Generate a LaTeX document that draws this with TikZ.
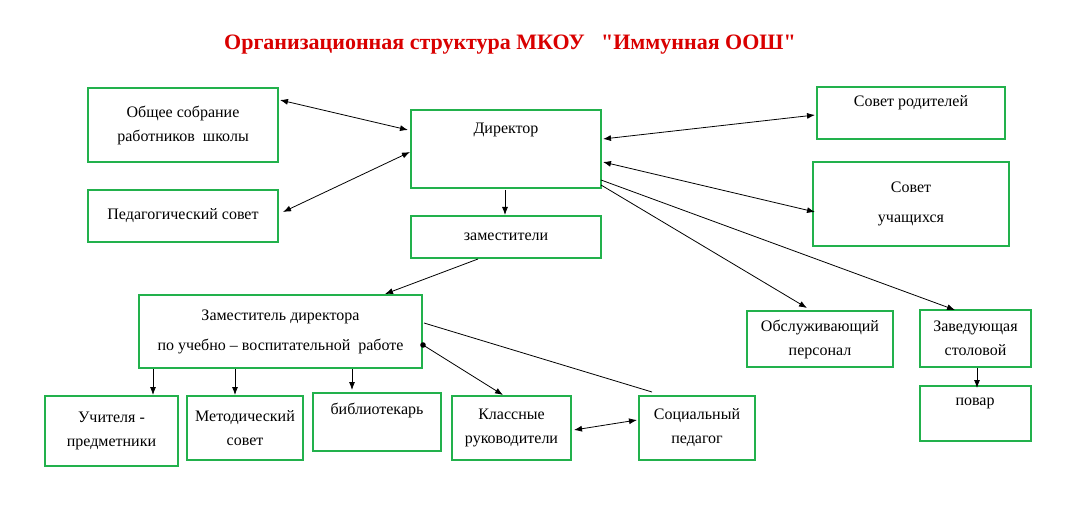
\documentclass[tikz,border=0pt]{standalone}
\usetikzlibrary{arrows.meta}
\usepackage{fontspec}
\setmainfont{Liberation Serif}
\newfontfamily\plainq{Liberation Serif}
\definecolor{gbox}{RGB}{34,177,76}
\begin{document}
\begin{tikzpicture}[x=1pt,y=-1pt,
 box/.style={draw=gbox,line width=2.8pt,align=center,font=\rmfamily\fontsize{16}{24}\selectfont,inner sep=0},
 con/.style={line width=0.8pt,>={Latex[length=8pt,width=6pt]}},
]
\useasboundingbox (0,0) rectangle (1065,518);
\fill[white] (0,0) rectangle (1065,518);
\node[text=red!85!black,font=\rmfamily\fontsize{22}{24}\selectfont\bfseries] (t) at (510,45) {Организационная структура МКОУ \ \ {\plainq\bfseries"}Иммунная ООШ{\plainq\bfseries"}};
\newcommand\bx[6]{\draw[box] (#2,#3) rectangle (#4,#5) node[box,draw=none,pos=0.5] (#1) {#6};}
\bx{os}{88}{88}{278}{162}{Общее собрание\\работников \ школы}
\bx{ps}{88}{190}{278}{242}{Педагогический совет}
\draw[box] (411,110) rectangle (601,188); \node[font=\rmfamily\fontsize{16}{18}\selectfont] (dir) at (506,130) {Директор};
\bx{zam}{411}{216}{601}{258}{заместители}
\draw[box] (817,87) rectangle (1005,139); \node[font=\rmfamily\fontsize{16}{18}\selectfont] (sr) at (911,103) {Совет родителей};
\bx{su}{813}{162}{1009}{246}{Совет\\[6pt]учащихся}
\bx{zd}{139}{295}{422}{368}{Заместитель директора\\[6pt]по учебно -- воспитательной \ работе}
\bx{ob}{747}{311}{893}{367}{Обслуживающий\\персонал}
\bx{zs}{920}{310}{1031}{367}{Заведующая\\столовой}
\draw[box] (920,386) rectangle (1031,441); \node[font=\rmfamily\fontsize{16}{18}\selectfont] (pv) at (975,403) {повар};
\bx{uc}{45}{396}{178}{466}{Учителя -\\предметники}
\bx{ms}{187}{396}{303}{460}{Методический\\совет}
\draw[box] (313,393) rectangle (441,451); \node[font=\rmfamily\fontsize{16}{18}\selectfont] (bb) at (377,410) {библиотекарь};
\bx{kr}{452}{396}{571}{460}{Классные\\руководители}
\bx{sp}{639}{396}{755}{460}{Социальный\\педагог}
% connectors
\draw[con,<->] (280,100) -- (408,130);
\draw[con,<->] (283,212) -- (410,152);
\draw[con,<->] (603,139) -- (815,115);
\draw[con,<->] (603,162) -- (815,212);
\draw[con,->] (601,185) -- (807,308);
\draw[con,->] (601,180) -- (955,310);
\draw[con,->] (505,190) -- (505,215);
\draw[con,->] (478,259) -- (385,294);
\draw[con,->] (153,369) -- (153,395);
\draw[con,->] (235,369) -- (235,395);
\draw[con,->] (352,369) -- (352,390);
\fill (423,345) circle (2.8);
\draw[con,->] (423,345) -- (503,395);
\draw[con] (424,323) -- (652,392);
\draw[con,<->] (574,430) -- (637,420);
\draw[con,->] (977,368) -- (977,388);
\end{tikzpicture}
\end{document}
